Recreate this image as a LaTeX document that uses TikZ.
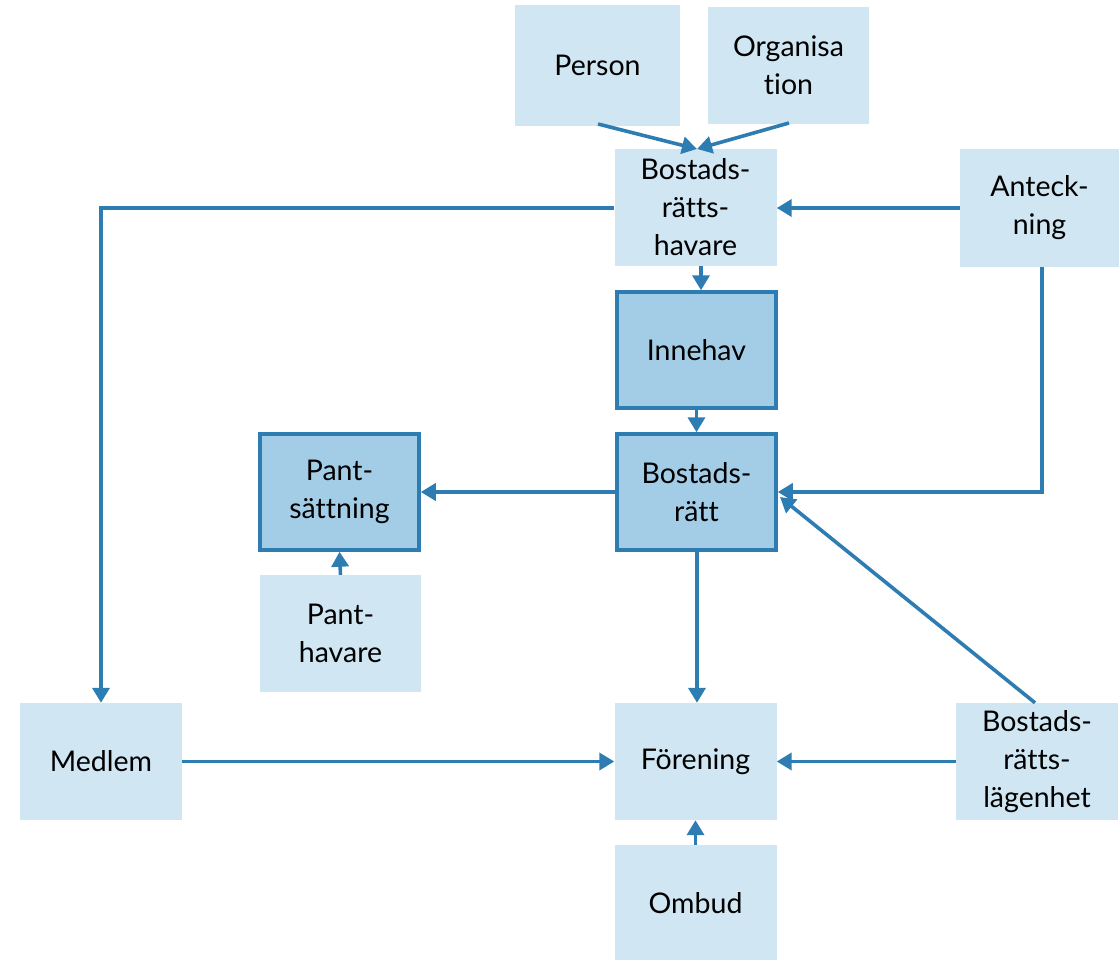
\documentclass[tikz,border=0pt]{standalone}
\usepackage{fontspec}
\setmainfont{Lato}[Ligatures={NoCommon}]
\usetikzlibrary{arrows.meta}
\definecolor{lightbox}{HTML}{D0E6F3}
\definecolor{darkbox}{HTML}{A3CDE6}
\definecolor{linec}{HTML}{2E7DB2}
\begin{document}
\begin{tikzpicture}[x=1pt,y=-1pt,
  every node/.style={font=\fontsize{28.5}{38}\selectfont, align=center, inner sep=0pt},
  lbox/.style={fill=lightbox, minimum width=162pt, minimum height=117pt},
  dbox/.style={fill=darkbox, draw=linec, line width=3.5pt, minimum width=159pt, minimum height=116pt},
  conn/.style={draw=linec, line width=3.6pt, -{Triangle[length=15pt,width=17pt]}}]
\useasboundingbox (0,0) rectangle (1119,960);
\node[lbox, minimum width=165pt, minimum height=121pt] (person) at (597.5,65.5) {Person};
\node[lbox, minimum width=161pt] (org) at (788.5,65.5) {Organisa\\tion};
\node[lbox] (brh) at (695.5,207.5) {Bostads-\\rätts-\\havare};
\node[lbox, minimum width=159pt] (ant) at (1039.5,208) {Anteck-\\ning};
\node[dbox] (inn) at (696.5,350) {Innehav};
\node[dbox] (br) at (696.5,492) {Bostads-\\rätt};
\node[dbox] (pant) at (339.5,492) {Pant-\\sättning};
\node[lbox, minimum width=161pt] (ph) at (340.5,633.5) {Pant-\\havare};
\node[lbox] (med) at (101,761.5) {Medlem};
\node[lbox] (for) at (695.5,761.5) {Förening};
\node[lbox] (brl) at (1037,761.5) {Bostads-\\rätts-\\lägenhet};
\node[lbox, minimum height=116pt] (omb) at (695.5,903) {Ombud};

\coordinate (tip) at (697,149);
\draw[conn] (598,124) -- (tip);
\draw[conn] (789,123) -- (tip);
\draw[conn] (ant.west |- 0,208) -- (brh.east |- 0,208);
\coordinate (c1) at (101,208);
\draw[conn] (brh.west |- 0,208) -- (c1) -- (med.north);
\draw[conn] (brh.south -| 701,0) -- ([xshift=4.5pt]inn.north);
\draw[conn] (inn.south) -- (br.north);
\draw[conn] (br.west) -- (pant.east);
\coordinate (c2) at (1042,492);
\draw[conn] (ant.south -| c2) -- (c2) -- (br.east);
\draw[conn] (brl.north -| 1035,0) -- (780,497);
\draw[conn] (br.south -| 697,0) -- (for.north -| 697,0);
\draw[conn] (ph.north) -- (pant.south);
\draw[conn] (med.east) -- (for.west);
\draw[conn] (brl.west) -- (for.east);
\draw[conn] (omb.north) -- (for.south);
\end{tikzpicture}
\end{document}
